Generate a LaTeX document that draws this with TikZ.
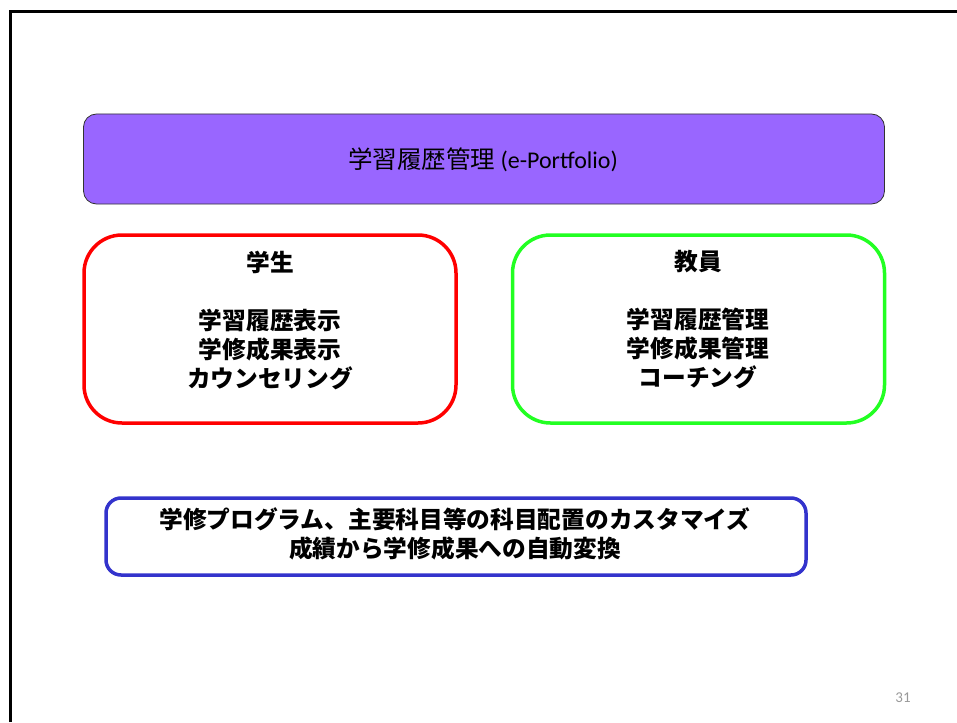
\documentclass[tikz,border=0pt]{standalone}
\usepackage{fontspec}
\setmainfont{Carlito}
\newfontfamily\jp{Noto Sans CJK JP}

\definecolor{portfoliopurple}{HTML}{9966FF}
\definecolor{studentred}{HTML}{FF0000}
\definecolor{teachergreen}{HTML}{22FF22}
\definecolor{programblue}{HTML}{3333CC}

\begin{document}
\begin{tikzpicture}[x=1pt, y=-1pt,
    box/.style={draw, rounded corners=#1, inner sep=0pt},
    rolebox/.style={box=38pt, line width=3.5pt, minimum width=372pt, minimum height=188pt},
    boldtext/.style={font=\jp\bfseries\fontsize{23.7}{29}\selectfont, align=center, inner sep=0pt}]
    \useasboundingbox (0, 0) rectangle (957, 722);

    % slide frame
    \draw[line width=3pt] (10.5, 722) -- (10.5, 11.5) -- (957, 11.5);

    % e-Portfolio bar
    \node[box=13pt, fill=portfoliopurple, draw=black!80, line width=0.8pt,
          minimum width=801pt, minimum height=90pt] (portfolio) at (484, 159) {};
    \node[font=\fontsize{24}{28}\selectfont, inner sep=0pt] (portfoliotext) at (483, 160)
        {{\jp\fontsize{24.5}{28}\selectfont 学習履歴管理} (e-Portfolio)};

    % student and teacher
    \node[rolebox, draw=studentred] (student) at (270, 329) {};
    \node[boldtext] (studenttext) at (270, 320)
        {学生\\[29pt]学習履歴表示\\学修成果表示\\カウンセリング};

    \node[rolebox, draw=teachergreen] (teacher) at (698.5, 329) {};
    \node[boldtext] (teachertext) at (698, 320)
        {教員\\[29pt]学習履歴管理\\学修成果管理\\コーチング};

    % program customisation
    \node[box=15pt, draw=programblue, line width=3.5pt,
          minimum width=700pt, minimum height=77pt] (program) at (456, 536.5) {};
    \node[boldtext] (programtext) at (455, 534)
        {学修プログラム、主要科目等の科目配置のカスタマイズ\\成績から学修成果への自動変換};

    % page number
    \node[text=black!40, font=\fontsize{15}{18}\selectfont, inner sep=0pt] (pagenum) at (903, 698) {31};
\end{tikzpicture}
\end{document}
